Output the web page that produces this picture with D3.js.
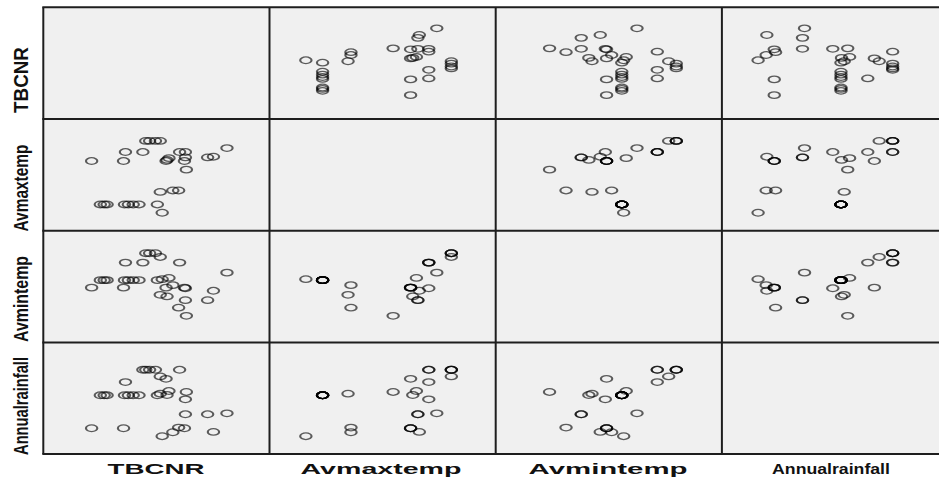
<!DOCTYPE html>
<html><head><meta charset="utf-8">
<script src="https://cdn.jsdelivr.net/npm/d3@7"></script>
<style>body{margin:0;background:#fff;overflow:hidden}</style>
</head><body><svg id="c" width="939" height="478"></svg>
<script>
// Variables of the scatterplot matrix (one value per observation)
const variables = ["TBCNR", "Avmaxtemp", "Avmintemp", "Annualrainfall"];
const TBCNR          = [148, 140, 170, 147, 128, 121, 176, 147, 146, 83, 50, 127, 134, 118, 99, 93, 88, 84, 66, 63, 59, 123, 130, 190, 141, 103, 85, 121, 116, 110, 106];
const Avmaxtemp      = [31.4, 30.24, 32.08, 32.08, 31.94, 30.16, 32.12, 32.38, 31.88, 31.88, 31.88, 31.88, 30.24, 29.46, 29.46, 29.46, 29.46, 29.46, 29.46, 29.46, 29.46, 29.0, 32.04, 32.6, 32.38, 32.38, 32.38, 33.0, 33.0, 33.0, 33.0];
const Avmintemp      = [19.0, 19.52, 20.0, 20.0, 20.24, 20.34, 20.6, 20.76, 20.8, 20.8, 20.8, 20.8, 20.96, 21.28, 21.28, 21.28, 21.28, 21.28, 21.28, 21.28, 21.28, 21.34, 21.42, 21.76, 22.4, 22.4, 22.4, 22.76, 23.0, 23.0, 23.0];
const Annualrainfall = [1266, 730, 930, 930, 1220, 1240, 665, 1155, 720, 720, 720, 1464, 660, 1216, 1216, 1216, 1216, 1216, 1216, 1216, 1216, 600, 1280, 945, 1600, 1600, 1415, 1500, 1600, 1600, 1600];

const columns = {TBCNR, Avmaxtemp, Avmintemp, Annualrainfall};
const records = TBCNR.map((_, i) => {
  const o = {};
  variables.forEach(v => o[v] = columns[v][i]);
  return o;
});

// axis ranges (SPSS style padded ranges)
const domains = {
  TBCNR: [0, 234],
  Avmaxtemp: [28.0, 34.22],
  Avmintemp: [17.3, 24.44],
  Annualrainfall: [331, 2012]
};

const plotLeft = 43.3, plotTop = 7.3, cellW = 226.2, cellH = 111.7;
const svg = d3.select("#c");
const n = variables.length;

const xScales = variables.map((v, i) => d3.scaleLinear().domain(domains[v]).range([plotLeft + i * cellW, plotLeft + (i + 1) * cellW]));
const yScales = variables.map((v, j) => d3.scaleLinear().domain(domains[v]).range([plotTop + (j + 1) * cellH, plotTop + j * cellH]));

const defs = svg.append("defs");
defs.append("clipPath").attr("id", "plotclip")
  .append("rect").attr("x", plotLeft).attr("y", plotTop).attr("width", 939 - plotLeft).attr("height", n * cellH);

const g = svg.append("g").attr("clip-path", "url(#plotclip)");

for (let j = 0; j < n; j++) {
  for (let i = 0; i < n; i++) {
    const cx0 = xScales[i].range()[0], cy0 = yScales[j].range()[1];
    g.append("rect").attr("x", cx0).attr("y", cy0).attr("width", cellW).attr("height", cellH)
      .attr("fill", "#f0f0f0");
    if (i === j) continue;
    const xs = xScales[i], ys = yScales[j];
    const vx = variables[i], vy = variables[j];
    g.append("g").selectAll("circle").data(records).join("circle")
      .attr("transform", d => `translate(${xs(d[vx])},${ys(d[vy])}) scale(1.72,1)`)
      .attr("r", 3.3)
      .attr("fill", "none")
      .attr("stroke", "#000")
      .attr("stroke-opacity", 0.62)
      .attr("stroke-width", 1.25);
  }
}
// grid / frame lines
const lines = svg.append("g");
for (let k = 0; k <= n; k++) {
  const x = plotLeft + k * cellW;
  lines.append("line").attr("x1", x).attr("x2", x).attr("y1", plotTop).attr("y2", plotTop + n * cellH)
    .attr("stroke", "#1e1e1e").attr("stroke-width", 2);
  const y = plotTop + k * cellH;
  lines.append("line").attr("x1", plotLeft - 1).attr("x2", plotLeft + n * cellW).attr("y1", y).attr("y2", y)
    .attr("stroke", "#1e1e1e").attr("stroke-width", 2);
}

// x labels: centre and rendered width
const xLabelCenter = [156, 381, 608, 831];
const xLabelWidth  = [97, 161, 159, 118];
variables.forEach((v, i) => {
  const t = svg.append("text")
    .attr("text-anchor", "middle")
    .attr("font-family", "Liberation Sans, Arial, sans-serif")
    .attr("font-weight", "bold")
    .attr("font-size", 14)
    .attr("fill", "#111")
    .text(v);
  const w = t.node().getComputedTextLength();
  t.attr("transform", `translate(${xLabelCenter[i]},${474}) scale(${xLabelWidth[i] / w},1)`);
});
// y labels (rotated)
const yLabelCenter = [80, 188, 299, 406];
const yLabelLength = [66, 87, 86, 98];
variables.forEach((v, j) => {
  const t = svg.append("text")
    .attr("text-anchor", "middle")
    .attr("font-family", "Liberation Sans, Arial, sans-serif")
    .attr("font-weight", "bold")
    .attr("font-size", 13)
    .attr("fill", "#111")
    .text(v);
  const w = t.node().getComputedTextLength();
  t.attr("transform", `translate(${28},${yLabelCenter[j]}) scale(1.6,1) rotate(-90) scale(${yLabelLength[j] / w},1)`);
});
</script>
</body></html>
